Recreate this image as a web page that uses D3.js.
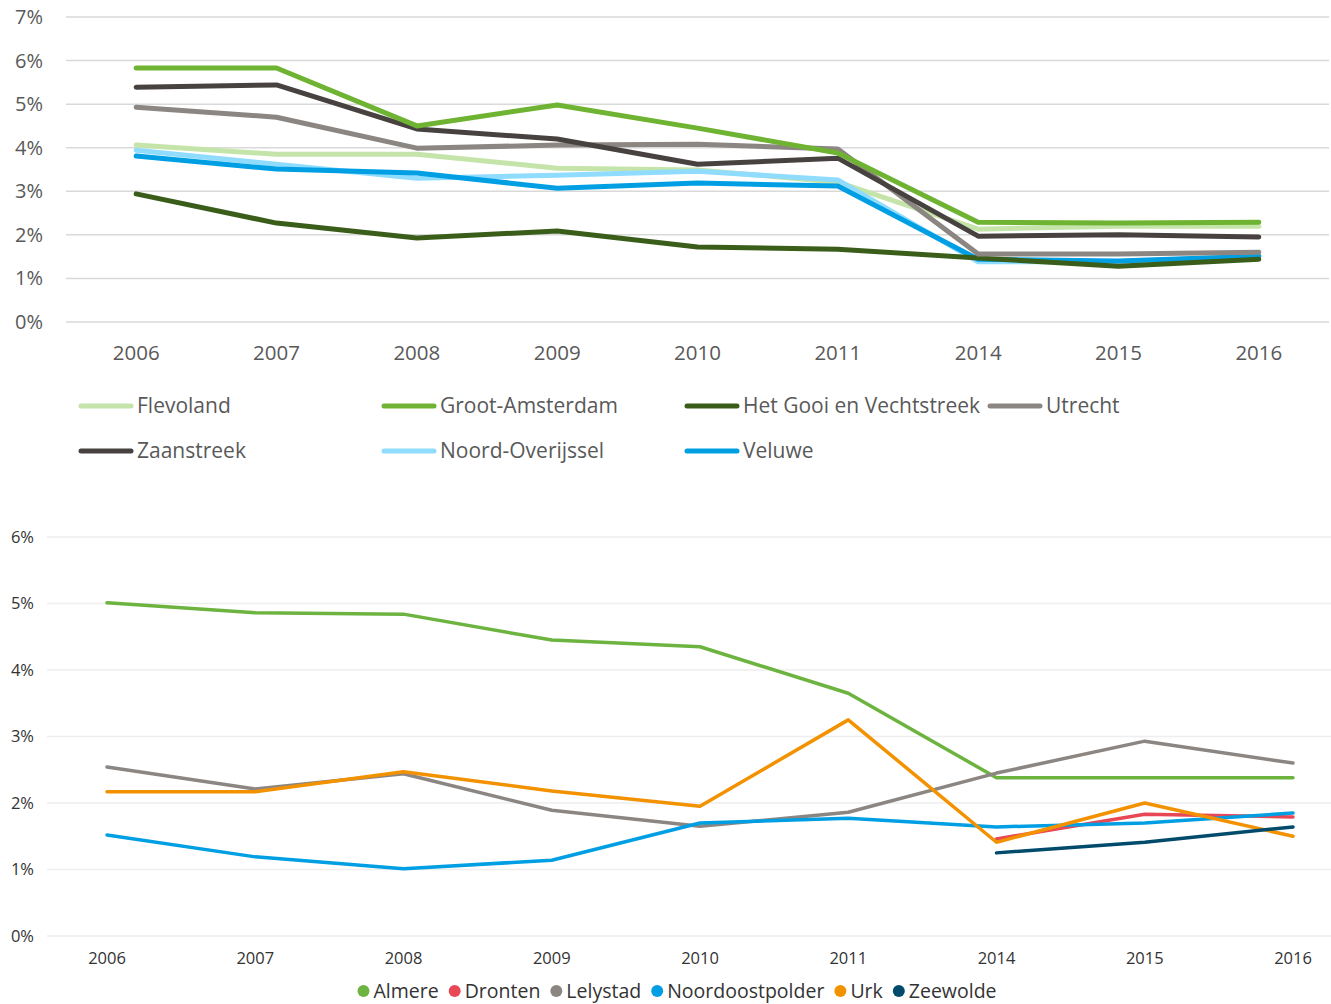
<!DOCTYPE html>
<html>
<head>
<meta charset="utf-8">
<script src="https://cdn.jsdelivr.net/npm/d3@7"></script>
<style>
  body { margin: 0; background: #fff; }
  svg { display: block; font-family: "Open Sans", "Noto Sans", sans-serif; }
</style>
</head>
<body>
<div id="chart"></div>
<script>
const YEARS = ["2006", "2007", "2008", "2009", "2010", "2011", "2014", "2015", "2016"];

// top chart (regions)
const TOP_TICKS = [0, 1, 2, 3, 4, 5, 6, 7];
const TOP_NAMES = ["Flevoland", "Groot-Amsterdam", "Het Gooi en Vechtstreek", "Utrecht",
                   "Zaanstreek", "Noord-Overijssel", "Veluwe"];
const TOP_COLORS = ["#c5e4a9", "#6fb332", "#3a5e1a", "#8c8682", "#474240", "#8fdcff", "#009fe3"];
const flevoland = [4.06, 3.85, 3.85, 3.53, 3.49, 3.21, 2.13, 2.2, 2.2];
const grootAmsterdam = [5.83, 5.83, 4.5, 4.98, 4.45, 3.88, 2.29, 2.27, 2.29];
const hetGooi = [2.94, 2.27, 1.93, 2.09, 1.72, 1.67, 1.47, 1.28, 1.44];
const utrecht = [4.93, 4.7, 3.99, 4.06, 4.08, 3.97, 1.56, 1.56, 1.6];
const zaanstreek = [5.39, 5.44, 4.43, 4.2, 3.62, 3.76, 1.97, 2.0, 1.95];
const noordOverijssel = [3.94, 3.62, 3.3, 3.37, 3.46, 3.26, 1.38, 1.38, 1.51];
const veluwe = [3.81, 3.51, 3.42, 3.07, 3.19, 3.12, 1.44, 1.4, 1.51];
const TOP_SERIES = [flevoland, grootAmsterdam, hetGooi, utrecht, zaanstreek, noordOverijssel, veluwe];
// drawing order (back to front)
const TOP_ORDER = [0, 5, 6, 2, 3, 4, 1];

// bottom chart (Flevoland municipalities)
const BOT_TICKS = [0, 1, 2, 3, 4, 5, 6];
const BOT_NAMES = ["Almere", "Dronten", "Lelystad", "Noordoostpolder", "Urk", "Zeewolde"];
const BOT_COLORS = ["#6db33f", "#e84855", "#8c8682", "#009fe3", "#f39200", "#004a6b"];
const almere = [5.01, 4.86, 4.84, 4.45, 4.35, 3.65, 2.38, 2.38, 2.38];
const dronten = [null, null, null, null, null, null, 1.46, 1.83, 1.79];
const lelystad = [2.54, 2.21, 2.44, 1.89, 1.65, 1.86, 2.45, 2.93, 2.6];
const noordoostpolder = [1.52, 1.19, 1.01, 1.14, 1.7, 1.77, 1.64, 1.7, 1.85];
const urk = [2.17, 2.17, 2.47, 2.18, 1.95, 3.25, 1.41, 2.0, 1.5];
const zeewolde = [null, null, null, null, null, null, 1.25, 1.41, 1.64];
const BOT_SERIES = [almere, dronten, lelystad, noordoostpolder, urk, zeewolde];

const WIDTH = 1331, HEIGHT = 1004;

const svg = d3.select("#chart")
  .append("svg")
    .attr("width", WIDTH)
    .attr("height", HEIGHT);

// ---------- top chart ----------
const X1 = d3.scaleBand().domain(YEARS).range([66, 1329]);
const Y1 = d3.scaleLinear().domain([0, 7]).range([322, 17]);

svg.append("g")
  .selectAll("line")
  .data(TOP_TICKS)
  .enter()
  .append("line")
    .attr("x1", 66).attr("x2", 1329)
    .attr("y1", d => Y1(d)).attr("y2", d => Y1(d))
    .attr("stroke", "#d9d9d9")
    .attr("stroke-width", 1.5);

svg.append("g")
  .selectAll("text")
  .data(TOP_TICKS)
  .enter()
  .append("text")
    .attr("x", 43)
    .attr("y", d => Y1(d))
    .attr("dy", "0.35em")
    .attr("text-anchor", "end")
    .attr("font-size", 20)
    .attr("fill", "#595959")
    .text(d => d + "%");

svg.append("g")
  .selectAll("text")
  .data(YEARS)
  .enter()
  .append("text")
    .attr("x", d => X1(d) + X1.bandwidth() / 2)
    .attr("y", 353)
    .attr("dy", "0.35em")
    .attr("text-anchor", "middle")
    .attr("font-size", 20.5)
    .attr("fill", "#595959")
    .text(d => d);

const line1 = d3.line()
  .defined(d => d != null)
  .x((d, i) => X1(YEARS[i]) + X1.bandwidth() / 2)
  .y(d => Y1(d));

svg.append("g")
  .selectAll("path")
  .data(TOP_ORDER)
  .enter()
  .append("path")
    .attr("d", i => line1(TOP_SERIES[i]))
    .attr("fill", "none")
    .attr("stroke", i => TOP_COLORS[i])
    .attr("stroke-width", 5)
    .attr("stroke-linecap", "round")
    .attr("stroke-linejoin", "round");

// top legend: 4 columns, 2 rows
const legend1 = svg.append("g")
  .selectAll("g")
  .data(TOP_NAMES)
  .enter()
  .append("g")
    .attr("transform", (d, i) => "translate(" + (79 + (i % 4) * 303) + "," + (406 + Math.floor(i / 4) * 45) + ")");

legend1.append("line")
  .attr("x1", 2).attr("x2", 52)
  .attr("stroke", (d, i) => TOP_COLORS[i])
  .attr("stroke-width", 5)
  .attr("stroke-linecap", "round");

legend1.append("text")
  .attr("x", 58)
  .attr("dy", "0.35em")
  .attr("font-size", 21)
  .attr("fill", "#595959")
  .text(d => d);

// ---------- bottom chart ----------
const X2 = d3.scalePoint().domain(YEARS).range([107, 1293]);
const Y2 = d3.scaleLinear().domain([0, 6]).range([936, 537]);

svg.append("g")
  .selectAll("line")
  .data(BOT_TICKS)
  .enter()
  .append("line")
    .attr("x1", 47).attr("x2", 1331)
    .attr("y1", d => Y2(d)).attr("y2", d => Y2(d))
    .attr("stroke", "#eeeeee")
    .attr("stroke-width", 1.5);

svg.append("g")
  .selectAll("text")
  .data(BOT_TICKS)
  .enter()
  .append("text")
    .attr("x", 34)
    .attr("y", d => Y2(d))
    .attr("dy", "0.35em")
    .attr("text-anchor", "end")
    .attr("font-size", 16.5)
    .attr("fill", "#333333")
    .text(d => d + "%");

svg.append("g")
  .selectAll("text")
  .data(YEARS)
  .enter()
  .append("text")
    .attr("x", d => X2(d))
    .attr("y", 958)
    .attr("dy", "0.35em")
    .attr("text-anchor", "middle")
    .attr("font-size", 16.5)
    .attr("fill", "#333333")
    .text(d => d);

const line2 = d3.line()
  .defined(d => d != null)
  .x((d, i) => X2(YEARS[i]))
  .y(d => Y2(d));

svg.append("g")
  .selectAll("path")
  .data(BOT_SERIES)
  .enter()
  .append("path")
    .attr("d", d => line2(d))
    .attr("fill", "none")
    .attr("stroke", (d, i) => BOT_COLORS[i])
    .attr("stroke-width", 3.5)
    .attr("stroke-linecap", "round")
    .attr("stroke-linejoin", "round");

// bottom legend, centred in a row
const legend2 = svg.append("g");
let lx = 0;
BOT_NAMES.forEach((name, i) => {
  const g = legend2.append("g").attr("transform", "translate(" + lx + ",0)");
  g.append("circle")
    .attr("cx", 6).attr("cy", 0).attr("r", 6)
    .attr("fill", BOT_COLORS[i]);
  const t = g.append("text")
    .attr("x", 16)
    .attr("dy", "0.35em")
    .attr("font-size", 19.5)
    .attr("fill", "#333333")
    .text(name);
  lx += 16 + t.node().getComputedTextLength() + 10;
});
legend2.attr("transform", "translate(" + (348 + (1016 - 348 - lx) / 2) + ",991)");
</script>
</body>
</html>
